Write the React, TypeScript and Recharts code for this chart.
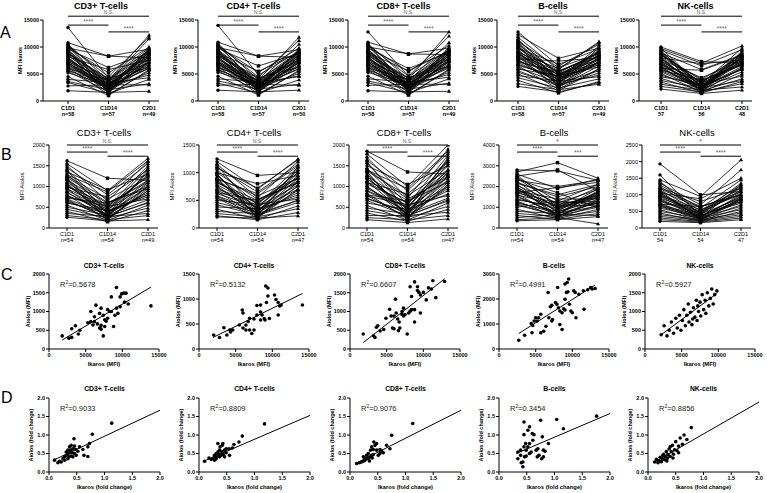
import React from 'react';
import { LineChart, Line, ScatterChart, Scatter, XAxis, YAxis, ReferenceLine } from 'recharts';

type Triple = [number, number, number];
type Pt = [number, number];

const cellTypes = ['CD3+ T-cells', 'CD4+ T-cells', 'CD8+ T-cells', 'B-cells', 'NK-cells'];
const timepoints = ['C1D1', 'C1D14', 'C2D1'];

// ---- A: Ikaros MFI per patient at C1D1, C1D14, C2D1 ----
const cd3Ikaros: Triple[] = [
  [13600, 4200, 9800], [10800, 8300, 8000], [10500, 3800, 12200], [10200, 4500, 11800],
  [9800, 8300, 9600], [9600, 6200, 8900], [9400, 3500, 11500], [9200, 3000, 9200],
  [9000, 2600, 8700], [8800, 4000, 9400], [8600, 2200, 7900], [8400, 3300, 8500],
  [8200, 5800, 7600], [8000, 2800, 9000], [7800, 1900, 7200], [7600, 3600, 8200],
  [7400, 2400, 6800], [7200, 1500, 7700], [7000, 3100, 6400], [6800, 2000, 7400],
  [6500, 2700, 6000], [6200, 1200, 5600], [6000, 3800, 8800], [5800, 2300, 5200],
  [5500, 1700, 6600], [5200, 2900, 4800], [4500, 1000, 5800], [4000, 3400, 4300],
  [3600, 2100, 3200], [3400, 1400, 4000], [1900, 1600, 1800], [2800, 3000, 3000],
  [9900, 5200, 10000], [10400, 2500, 9500], [9500, 2300, 7000], [8700, 4200, 6200],
  [8100, 1800, 9800], [7300, 3900, 9300], [6700, 3200, 7800], [9100, 1600, 8300],
  [7900, 2700, 6100], [6300, 2500, 8600], [8900, 3700, 7200], [7100, 2200, 9100],
  [5600, 3300, 7100], [10000, 2900, 8100],
];
const cd4Ikaros: Triple[] = [
  [14000, 4800, 9200], [10900, 8300, 8100], [10600, 3900, 11800], [10300, 4400, 11200],
  [9900, 8300, 9500], [9700, 6500, 8800], [9500, 3600, 10500], [9300, 3100, 9300],
  [9100, 2700, 8600], [8900, 5500, 9000], [8700, 2300, 7800], [8500, 3400, 8400],
  [8300, 4100, 7500], [8100, 2900, 9100], [7900, 2000, 7100], [7700, 3700, 8100],
  [7500, 2500, 6700], [7300, 1600, 7600], [7100, 3200, 6300], [6900, 2100, 7300],
  [6600, 2800, 5900], [6300, 1300, 5500], [6100, 3900, 8700], [5900, 2400, 5100],
  [5600, 1800, 6500], [5300, 3000, 4700], [4600, 1100, 5700], [4100, 3500, 4500],
  [3700, 2200, 3100], [3300, 1500, 3900], [2000, 1700, 2000], [2900, 3100, 2900],
  [10100, 5300, 9800], [10500, 2600, 9400], [9400, 2400, 7100], [8600, 4300, 6300],
  [8200, 1900, 9700], [7200, 3800, 9200], [6800, 3300, 7700], [9000, 1700, 8200],
  [7800, 2800, 6000], [6400, 2600, 8500], [8800, 3600, 7300], [7000, 2300, 9000],
  [5700, 3200, 7000], [10200, 3000, 8000],
];
const cd8Ikaros: Triple[] = [
  [12800, 4600, 9500], [10900, 8700, 8600], [10600, 4000, 12800], [10300, 4600, 12000],
  [10000, 8700, 9800], [9800, 6000, 9000], [9500, 3700, 10800], [9300, 3200, 9400],
  [9100, 2800, 8800], [8900, 5600, 9300], [8700, 2300, 8000], [8500, 3500, 8600],
  [8300, 4200, 7700], [8100, 2900, 9200], [7900, 2000, 7300], [7700, 3800, 8300],
  [7500, 2500, 6900], [7300, 1500, 7800], [7100, 3300, 6500], [6900, 2100, 7500],
  [6600, 2800, 6100], [6300, 1200, 5700], [6100, 4000, 8900], [5900, 2400, 5300],
  [5600, 1800, 6700], [5300, 3000, 4900], [4600, 1100, 5900], [4100, 3500, 4400],
  [3700, 2200, 3300], [3400, 1500, 4100], [1900, 1700, 1800], [2900, 3100, 3100],
  [10200, 5400, 10300], [10500, 2600, 9700], [9600, 2400, 7200], [8700, 4300, 6400],
  [8200, 1900, 10000], [7400, 3900, 9500], [6800, 3200, 8000], [9200, 1700, 8500],
  [8000, 2800, 6300], [6400, 2500, 8800], [9000, 3700, 7400], [7200, 2200, 9300],
  [5700, 3300, 7300], [10100, 2900, 8300],
];
const bIkaros: Triple[] = [
  [12800, 6500, 10500], [12300, 7900, 9800], [11800, 5800, 11000], [11400, 4600, 9400],
  [11000, 6200, 8800], [10700, 3800, 10200], [10400, 5200, 9000], [10100, 4200, 8500],
  [9800, 6800, 9600], [9500, 3400, 7900], [9200, 4800, 8200], [8900, 2900, 7400],
  [8600, 5500, 8700], [8300, 3900, 7000], [8000, 4400, 9200], [7700, 2600, 6500],
  [7400, 5000, 7700], [7100, 3600, 6800], [6800, 4000, 7200], [6500, 2200, 6000],
  [6200, 3300, 5600], [5900, 4700, 6300], [5600, 2800, 5200], [5300, 3100, 4800],
  [5000, 1900, 5900], [4700, 3700, 4500], [4300, 2400, 4100], [3800, 1500, 3600],
  [3200, 2100, 3100], [2700, 1700, 3400], [7800, 7400, 8000], [9000, 6000, 10800],
  [10900, 4100, 7600], [9700, 5600, 8300], [9100, 3100, 9900], [8400, 4900, 7100],
  [7600, 3500, 8600], [10300, 2700, 8100], [8800, 4300, 6700], [7200, 5400, 8900],
  [9900, 3700, 9300], [8200, 2500, 7300], [6600, 4500, 7900], [11200, 5000, 8400],
];
const nkIkaros: Triple[] = [
  [10000, 7300, 7000], [9700, 7000, 10200], [9400, 6500, 9500], [9100, 3200, 9800],
  [8900, 5800, 8600], [8700, 2700, 9000], [8500, 4000, 8300], [8200, 3500, 7900],
  [7900, 2300, 8700], [7700, 4300, 7500], [7400, 3000, 7100], [7200, 2000, 8000],
  [6900, 3700, 6800], [6700, 2500, 6400], [6400, 3300, 7300], [6200, 1800, 6100],
  [5900, 2800, 5800], [5700, 3900, 6600], [5400, 2200, 5400], [5100, 1600, 5000],
  [4800, 2600, 5900], [4500, 3100, 4600], [4200, 1900, 4100], [3800, 2400, 3800],
  [3500, 1500, 3600], [3100, 2000, 2600], [2700, 1700, 3200], [2200, 1400, 2000],
  [8000, 6900, 7600], [6000, 5700, 8400], [9300, 2500, 8200], [8600, 3800, 6700],
  [8100, 1900, 9300], [7300, 3400, 8900], [6800, 2800, 7400], [9000, 1700, 7800],
  [7700, 2400, 6100], [6300, 2100, 8100], [8800, 3200, 7000], [7000, 1900, 8500],
  [5600, 2700, 6900], [9800, 2600, 8700],
];
const ikarosN = [
  ['n=58', 'n=57', 'n=49'], ['n=58', 'n=57', 'n=50'], ['n=58', 'n=57', 'n=49'],
  ['n=58', 'n=57', 'n=49'], ['57', '56', '48'],
];
const ikarosTicks = [0, 5000, 10000, 15000];
const ikarosSig = [
  ['N.S.', '****', '****'], ['N.S.', '****', '****'], ['N.S.', '****', '****'],
  ['N.S.', '****', '****'], ['N.S.', '****', '****'],
];

// ---- B: Aiolos MFI per patient ----
const cd3Aiolos: Triple[] = [
  [1620, 1200, 1150], [1550, 900, 1680], [1500, 650, 1600], [1450, 800, 1550],
  [1400, 500, 1500], [1350, 920, 1300], [1300, 420, 1450], [1250, 700, 1200],
  [1200, 350, 1350], [1150, 600, 1100], [1100, 480, 1250], [1050, 300, 1000],
  [1000, 560, 1150], [950, 250, 900], [900, 450, 1050], [850, 380, 800],
  [800, 200, 950], [750, 520, 700], [700, 330, 850], [650, 270, 620],
  [600, 420, 750], [550, 180, 550], [500, 310, 680], [450, 240, 480],
  [400, 150, 420], [350, 280, 350], [300, 200, 300], [260, 170, 200],
  [1280, 870, 1620], [980, 750, 1400], [720, 600, 1000], [1180, 280, 600],
  [1380, 350, 1150], [1220, 620, 950], [1080, 250, 1400], [940, 520, 1250],
  [860, 300, 1100], [1160, 200, 1000], [780, 420, 1300], [680, 220, 900],
  [1020, 400, 800], [620, 340, 1000],
];
const cd4Aiolos: Triple[] = [
  [1250, 950, 1000], [1200, 700, 1250], [1150, 550, 1200], [1100, 650, 1150],
  [1050, 420, 1100], [1000, 800, 950], [950, 350, 1050], [900, 580, 900],
  [860, 300, 1000], [820, 500, 820], [780, 400, 920], [740, 260, 760],
  [700, 470, 850], [660, 220, 680], [620, 380, 780], [580, 320, 600],
  [540, 180, 700], [500, 430, 520], [460, 280, 640], [420, 230, 460],
  [380, 350, 560], [340, 160, 400], [300, 260, 500], [260, 200, 350],
  [220, 150, 280], [200, 180, 220], [1080, 720, 1230], [880, 620, 1120],
  [640, 500, 900], [960, 240, 500], [1130, 300, 950], [1000, 520, 820],
  [900, 220, 1100], [820, 440, 1000], [760, 260, 900], [980, 180, 850],
  [680, 370, 1050], [580, 200, 760], [860, 340, 700], [540, 300, 820],
];
const cd8Aiolos: Triple[] = [
  [1850, 1350, 1300], [1780, 1000, 2000], [1700, 720, 1900], [1630, 900, 1800],
  [1560, 560, 1750], [1500, 1050, 1500], [1430, 460, 1650], [1370, 780, 1400],
  [1300, 380, 1550], [1240, 660, 1250], [1180, 520, 1400], [1120, 330, 1150],
  [1060, 610, 1300], [1000, 270, 1000], [950, 490, 1150], [890, 410, 900],
  [830, 220, 1050], [770, 560, 780], [720, 360, 950], [660, 290, 680],
  [600, 450, 820], [540, 190, 600], [480, 340, 720], [420, 250, 520],
  [360, 160, 450], [300, 300, 380], [250, 200, 300], [200, 130, 220],
  [1400, 950, 1850], [1100, 820, 1600], [800, 650, 1100], [1350, 300, 650],
  [1600, 400, 1400], [1420, 700, 1200], [1250, 300, 1700], [1100, 600, 1500],
  [1000, 350, 1350], [1350, 250, 1250], [900, 500, 1600], [780, 250, 1100],
  [1200, 450, 1000], [700, 400, 1250],
];
const bAiolos: Triple[] = [
  [2800, 2750, 2300], [2700, 3150, 2400], [2600, 1900, 2350], [2500, 2800, 1800],
  [2450, 1300, 2100], [2400, 1100, 1950], [2300, 2000, 2300], [2250, 900, 1700],
  [2200, 1500, 2000], [2100, 750, 1600], [2050, 1200, 1850], [1950, 1000, 1500],
  [1900, 650, 1750], [1800, 1400, 1400], [1750, 850, 1650], [1650, 550, 1300],
  [1600, 1100, 1550], [1500, 700, 1200], [1400, 950, 1450], [1300, 500, 1100],
  [1200, 800, 1300], [1100, 600, 1000], [1000, 1300, 1150], [900, 450, 900],
  [800, 700, 1050], [700, 550, 800], [600, 420, 700], [500, 650, 600],
  [400, 500, 200], [350, 400, 550], [1700, 1950, 2200], [2350, 1700, 950],
  [2550, 1000, 1700], [2150, 1600, 2100], [1850, 800, 1900], [1700, 1200, 1300],
  [1550, 650, 1800], [2000, 550, 1400], [1350, 1050, 1600], [1150, 600, 1250],
  [1850, 1050, 1100], [1250, 700, 1500],
];
const nkAiolos: Triple[] = [
  [1930, 1000, 1100], [1450, 950, 2050], [1350, 700, 1750], [1300, 600, 1450],
  [1250, 520, 1300], [1200, 800, 1200], [1150, 450, 1350], [1100, 620, 1100],
  [1050, 400, 1150], [1000, 550, 1000], [950, 350, 950], [900, 480, 1050],
  [850, 300, 880], [800, 420, 900], [750, 280, 800], [700, 380, 750],
  [650, 250, 700], [600, 330, 650], [550, 220, 600], [500, 300, 550],
  [450, 200, 500], [400, 260, 450], [350, 230, 400], [300, 200, 350],
  [250, 180, 300], [200, 160, 250], [1050, 880, 1500], [720, 650, 1000],
  [1600, 350, 850], [1400, 420, 1250], [1180, 650, 1000], [1060, 300, 1300],
  [960, 500, 1200], [880, 320, 1000], [1120, 250, 900], [820, 450, 1100],
  [700, 260, 850], [1000, 380, 800], [660, 350, 950],
];
const aiolosN = [
  ['n=54', 'n=54', 'n=49'], ['n=54', 'n=54', 'n=47'], ['n=54', 'n=54', 'n=47'],
  ['n=54', 'n=54', 'n=47'], ['54', '54', '47'],
];
const aiolosTicks = [
  [0, 500, 1000, 1500, 2000], [0, 500, 1000, 1500], [0, 500, 1000, 1500, 2000],
  [0, 1000, 2000, 3000, 4000], [0, 500, 1000, 1500, 2000, 2500],
];
const aiolosSig = [
  ['N.S.', '****', '****'], ['N.S.', '****', '****'], ['N.S.', '****', '****'],
  ['*', '****', '***'], ['*', '****', '****'],
];
const sigPairs = [[0, 2], [0, 1], [1, 2]];

// ---- C: Aiolos vs Ikaros (MFI) ----
const cd3Mfi: Pt[] = [
  [1800, 350], [2700, 290], [3100, 310], [3100, 540], [3600, 620], [4000, 400], [4200, 500],
  [5300, 700], [5700, 1000], [5700, 730], [6000, 640], [6200, 860], [6200, 730], [6400, 1170],
  [6600, 670], [6900, 950], [6900, 560], [7100, 630], [7100, 1090], [7100, 530], [7400, 900],
  [7400, 350], [7600, 600], [7600, 780], [7800, 740], [8000, 1050], [8000, 820], [8300, 1000],
  [8500, 1390], [8500, 1000], [8800, 600], [9000, 900], [9200, 1640], [9200, 1090], [9400, 950],
  [9700, 1390], [9700, 1130], [9900, 1470], [10200, 1490], [10500, 1490], [10300, 1250],
  [10800, 1200], [13900, 1150],
];
const cd4Mfi: Pt[] = [
  [2000, 280], [2800, 230], [3400, 425], [3800, 280], [4200, 380], [4300, 340], [4600, 380],
  [5500, 480], [5900, 780], [6000, 720], [6000, 420], [6400, 480], [6400, 380], [6700, 550],
  [6900, 613], [6900, 380], [7200, 310], [7500, 380], [7500, 600], [7900, 680], [7900, 870],
  [8400, 880], [8400, 740], [8400, 580], [8600, 680], [8900, 610], [9000, 580], [9100, 1260],
  [9200, 930], [9400, 1220], [9400, 1060], [9600, 610], [10300, 1080], [10500, 990],
  [10800, 930], [10800, 680], [11000, 860], [11200, 880], [14100, 880],
];
const cd8Mfi: Pt[] = [
  [1800, 400], [3200, 355], [3400, 310], [3600, 580], [3800, 620], [4100, 480], [4600, 520],
  [4900, 820], [5400, 1060], [5600, 880], [5800, 560], [6000, 880], [6000, 540], [6200, 1330],
  [6300, 960], [6500, 800], [6600, 490], [6700, 720], [6800, 560], [7100, 1000], [7100, 920],
  [7300, 1090], [7300, 880], [7500, 920], [7800, 400], [8000, 960], [8200, 1010], [8200, 1660],
  [8400, 1050], [8400, 1400], [8800, 1050], [8800, 1790], [8800, 720], [9200, 1660],
  [9200, 1560], [9400, 1510], [9600, 960], [9600, 1440], [10000, 1510], [10400, 1310],
  [10700, 1630], [11100, 1600], [11300, 1820], [11700, 1370], [12900, 1800],
];
const bMfi: Pt[] = [
  [2700, 350], [3500, 550], [4400, 1020], [4600, 940], [4800, 1120], [5000, 1250], [4500, 650],
  [5200, 1120], [5400, 1250], [5700, 1390], [6100, 710], [5700, 650], [6400, 910], [6800, 1250],
  [7200, 1120], [7300, 1180], [7000, 1690], [7200, 1750], [6700, 2260], [7700, 1860],
  [7900, 1790], [8100, 1650], [8000, 2460], [8300, 1520], [8600, 1450], [8300, 980],
  [8600, 780], [9000, 1990], [8800, 1610], [9000, 1560], [9200, 2260], [9400, 2290],
  [9000, 2600], [9300, 2660], [9500, 2800], [9600, 1790], [9800, 1520], [10000, 1450],
  [10200, 2330], [10400, 2260], [10500, 1250], [10900, 2190], [11500, 2330], [11600, 1590],
  [12100, 2370], [12500, 2460], [12700, 2400], [13100, 2420],
];
const nkMfi: Pt[] = [
  [2200, 380], [2600, 620], [3000, 350], [3300, 500], [3600, 720], [3900, 420], [4200, 820],
  [4400, 560], [4700, 900], [4900, 500], [5100, 760], [5300, 1050], [5500, 620], [5700, 900],
  [5900, 1200], [6000, 720], [6200, 980], [6400, 650], [6600, 1100], [6800, 850], [7000, 1300],
  [7100, 760], [7300, 1000], [7500, 1250], [7600, 880], [7800, 1450], [8000, 1050], [8200, 1300],
  [8300, 950], [8500, 1500], [8700, 1150], [8900, 1350], [9100, 1600], [9300, 1200],
  [9500, 1450], [9800, 1550], [7200, 1150], [6500, 800],
];
const mfiFits = [
  [1800, 240, 13900, 1650], [1900, 230, 14100, 1110], [1800, 170, 12900, 1870],
  [2700, 620, 13100, 2560], [2200, 380, 9800, 1480],
];
const mfiR2 = ['0.5678', '0.5132', '0.6607', '0.4991', '0.5927'];
const mfiXTicks = [0, 5000, 10000, 15000];
const mfiYTicks = [
  [0, 500, 1000, 1500, 2000], [0, 500, 1000, 1500], [0, 500, 1000, 1500, 2000],
  [0, 1000, 2000, 3000], [0, 500, 1000, 1500, 2000],
];

// ---- D: Aiolos vs Ikaros (fold change) ----
const cd3Fold: Pt[] = [
  [0.10, 0.32], [0.16, 0.25], [0.19, 0.29], [0.22, 0.27], [0.25, 0.36], [0.28, 0.41],
  [0.31, 0.45], [0.28, 0.32], [0.34, 0.36], [0.31, 0.54], [0.34, 0.59], [0.37, 0.52],
  [0.37, 0.68], [0.40, 0.72], [0.43, 0.63], [0.46, 0.70], [0.45, 0.90], [0.40, 0.43],
  [0.43, 0.41], [0.49, 0.45], [0.52, 0.56], [0.55, 0.68], [0.61, 0.61], [0.63, 0.45],
  [0.70, 0.42], [0.70, 0.68], [0.78, 1.02], [0.73, 0.77], [1.13, 1.32], [0.34, 0.50],
  [0.39, 0.59], [0.36, 0.41], [0.42, 0.52], [0.46, 0.50], [0.48, 0.61],
];
const cd4Fold: Pt[] = [
  [0.10, 0.29], [0.18, 0.38], [0.22, 0.34], [0.26, 0.38], [0.28, 0.32], [0.31, 0.36],
  [0.31, 0.50], [0.34, 0.54], [0.37, 0.59], [0.34, 0.77], [0.38, 0.68], [0.42, 0.72],
  [0.43, 0.77], [0.40, 0.45], [0.44, 0.47], [0.46, 0.59], [0.49, 0.63], [0.54, 0.63],
  [0.55, 0.45], [0.60, 0.65], [0.63, 0.74], [0.72, 0.81], [0.78, 0.97], [1.18, 1.30],
  [0.28, 0.45], [0.37, 0.41], [0.31, 0.41], [0.46, 0.41], [0.49, 0.52], [0.36, 0.48],
  [0.41, 0.55],
];
const cd8Fold: Pt[] = [
  [0.12, 0.23], [0.17, 0.25], [0.21, 0.27], [0.24, 0.29], [0.27, 0.32], [0.30, 0.36],
  [0.33, 0.38], [0.36, 0.41], [0.39, 0.45], [0.42, 0.47], [0.30, 0.45], [0.33, 0.50],
  [0.37, 0.59], [0.42, 0.61], [0.45, 0.72], [0.48, 0.77], [0.39, 0.68], [0.43, 0.81],
  [0.51, 0.45], [0.54, 0.50], [0.60, 0.52], [0.57, 0.56], [0.66, 0.72], [0.72, 0.63],
  [0.75, 0.99], [1.13, 1.31], [0.24, 0.41], [0.27, 0.38], [0.48, 0.59], [0.54, 0.61],
  [0.35, 0.30], [0.40, 0.38],
];
const bFold: Pt[] = [
  [0.34, 0.36], [0.39, 0.45], [0.43, 0.14], [0.40, 0.25], [0.43, 0.27], [0.46, 0.41],
  [0.49, 0.43], [0.45, 0.68], [0.48, 0.77], [0.45, 1.01], [0.45, 1.35], [0.52, 1.13],
  [0.55, 1.22], [0.55, 0.50], [0.58, 0.54], [0.49, 0.59], [0.55, 0.77], [0.61, 0.86],
  [0.60, 1.04], [0.63, 1.01], [0.67, 0.59], [0.70, 0.63], [0.69, 0.41], [0.72, 0.45],
  [0.75, 1.40], [0.78, 0.95], [0.80, 0.59], [0.83, 0.56], [0.77, 0.36], [0.80, 0.41],
  [0.89, 0.77], [1.04, 1.42], [1.16, 1.17], [0.39, 0.59], [0.34, 0.54], [0.52, 0.68],
  [1.76, 1.51],
];
const nkFold: Pt[] = [
  [0.12, 0.27], [0.15, 0.34], [0.18, 0.25], [0.20, 0.30], [0.22, 0.40], [0.24, 0.28],
  [0.26, 0.36], [0.28, 0.48], [0.30, 0.33], [0.31, 0.42], [0.33, 0.55], [0.35, 0.38],
  [0.36, 0.47], [0.38, 0.62], [0.40, 0.42], [0.42, 0.55], [0.44, 0.72], [0.46, 0.48],
  [0.48, 0.60], [0.50, 0.82], [0.52, 0.58], [0.55, 0.70], [0.58, 0.92], [0.62, 0.75],
  [0.65, 1.00], [0.70, 0.88], [0.78, 1.20], [0.45, 0.38], [0.40, 0.68], [0.34, 0.30],
  [0.27, 0.45], [0.55, 0.52],
];
const foldFits = [
  [0.08, 0.32, 2.0, 1.67], [0.08, 0.29, 2.0, 1.53], [0.1, 0.23, 2.0, 1.67],
  [0.31, 0.50, 2.0, 1.58], [0.12, 0.27, 2.0, 1.89],
];
const foldR2 = ['0.9033', '0.8809', '0.9076', '0.3454', '0.8856'];
const foldTicks = [0, 0.5, 1, 1.5, 2];

const ikarosSets = [cd3Ikaros, cd4Ikaros, cd8Ikaros, bIkaros, nkIkaros];
const aiolosSets = [cd3Aiolos, cd4Aiolos, cd8Aiolos, bAiolos, nkAiolos];
const mfiSets = [cd3Mfi, cd4Mfi, cd8Mfi, bMfi, nkMfi];
const foldSets = [cd3Fold, cd4Fold, cd8Fold, bFold, nkFold];

// layout (pixel positions of each panel's y axis / first time point)
const catX = [68, 218, 368, 518, 661];
const axisA = [43, 198, 348, 497, 639];
const axisB = [49, 199, 349, 499, 642];
const axisC = [49, 199, 350, 499, 645];
const axisD = [49, 199, 350, 499, 648];
const SP = 40.5;

const renderMarker = (p: any) => {
  const { cx, cy, payload, index, dataKey } = p;
  const key = `${dataKey}-${index}`;
  if (cx == null || cy == null) return <g key={key} />;
  if (payload.t === 0) return <circle key={key} cx={cx} cy={cy} r={1.7} fill="#000" />;
  if (payload.t === 1) return <rect key={key} x={cx - 1.7} y={cy - 1.7} width={3.4} height={3.4} fill="#000" />;
  return <path key={key} d={`M${cx},${cy - 2.2}L${cx + 2},${cy + 1.4}L${cx - 2},${cy + 1.4}Z`} fill="#000" />;
};

const dotShape = (p: any) => <circle cx={p.cx} cy={p.cy} r={1.8} fill="#000" />;

const YW = 40, MT = 24, XH = 24, MR = 4;

function Spaghetti(props: any) {
  const { axisX, c0, top, h, subjects, yTicks, n, sig, levels, bold, dy } = props;
  const yMax = yTicks[yTicks.length - 1];
  const plotW = c0 + 2 * SP + 10 - axisX;
  const lo = -(c0 - axisX) / SP;
  const hi = 2 + 10 / SP;
  const rows = timepoints.map((_, t) => {
    const r: any = { t };
    subjects.forEach((s: Triple, i: number) => { r['s' + i] = s[t]; });
    return r;
  });
  const fw = bold ? 'bold' : 'normal';
  const catTick = (p: any) => (
    <text x={p.x} y={p.y} textAnchor="middle" fontSize={5.5} fontWeight={fw} fill="#000">
      <tspan x={p.x} dy={dy[0]}>{timepoints[p.payload.value]}</tspan>
      <tspan x={p.x} dy={dy[1]}>{n[p.payload.value]}</tspan>
    </text>
  );
  return (
    <div style={{ position: 'absolute', left: axisX - YW, top: top - MT }}>
      <LineChart width={YW + plotW + MR} height={MT + h + XH} data={rows}
        margin={{ top: MT, right: MR, left: 0, bottom: 0 }}>
        <XAxis type="number" dataKey="t" domain={[lo, hi]} allowDataOverflow ticks={[0, 1, 2]}
          interval={0} tick={catTick} tickSize={3} tickMargin={1} height={XH} stroke="#000" />
        <YAxis type="number" domain={[0, yMax]} allowDataOverflow ticks={yTicks} interval={0}
          tick={{ fontSize: 5.5, fill: '#000', fontWeight: fw }} tickSize={3} tickMargin={1}
          width={YW} stroke="#000" />
        {sig.map((s: string, i: number) => {
          const y = yMax * levels[i];
          const [a, b] = sigPairs[i];
          return (
            <ReferenceLine key={'sig' + i} segment={[{ x: a, y }, { x: b, y }]} ifOverflow="visible"
              stroke="#000" strokeWidth={1}
              label={{ value: s, position: 'top', offset: s === 'N.S.' ? 2 : 1, fontSize: s === 'N.S.' ? 5 : 6.5, fill: '#666' }} />
          );
        })}
        {subjects.map((_: Triple, i: number) => (
          <Line key={'s' + i} dataKey={'s' + i} stroke="#000" strokeWidth={0.8} dot={renderMarker}
            activeDot={false} isAnimationActive={false} />
        ))}
      </LineChart>
    </div>
  );
}

const SW = 32, SMT = 8, SXH = 14, SMR = 10;

function ScatterPanel(props: any) {
  const { axisX, top, h, w, xTicks, yTicks, pts, fit, dec } = props;
  const xMax = xTicks[xTicks.length - 1];
  const yMax = yTicks[yTicks.length - 1];
  const data = pts.map(([x, y]: Pt) => ({ x, y }));
  const fmt = (v: number) => (dec ? v.toFixed(dec) : String(v));
  const tick = { fontSize: 5.5, fill: '#000', fontWeight: 'bold' };
  return (
    <div style={{ position: 'absolute', left: axisX - SW, top: top - SMT }}>
      <ScatterChart width={SW + w + SMR} height={SMT + h + SXH}
        margin={{ top: SMT, right: SMR, left: 0, bottom: 0 }}>
        <XAxis type="number" dataKey="x" domain={[0, xMax]} allowDataOverflow ticks={xTicks}
          interval={0} tickFormatter={fmt} tick={tick} tickSize={3} tickMargin={1} height={SXH} stroke="#000" />
        <YAxis type="number" dataKey="y" domain={[0, yMax]} allowDataOverflow ticks={yTicks}
          interval={0} tickFormatter={fmt} tick={tick} tickSize={3} tickMargin={1} width={SW} stroke="#000" />
        <ReferenceLine segment={[{ x: fit[0], y: fit[1] }, { x: fit[2], y: fit[3] }]}
          ifOverflow="visible" stroke="#000" strokeWidth={1} />
        <Scatter data={data} fill="#000" shape={dotShape} isAnimationActive={false} />
      </ScatterChart>
    </div>
  );
}

const rowA = { top: 20, h: 81 };
const rowB = { top: 145, h: 83 };
const rowC = { top: 274, h: 75, w: 110 };
const rowD = { top: 398, h: 74, w: 111 };

export default function App() {
  const font = '"Liberation Sans", Arial, Helvetica, sans-serif';
  return (
    <div style={{ position: 'fixed', left: 0, top: 0, width: 767, height: 493, background: '#fff', overflow: 'hidden', fontFamily: font }}>
      {cellTypes.map((_, i) => (
        <Spaghetti key={'a' + i} axisX={axisA[i]} c0={catX[i]} top={rowA.top} h={rowA.h}
          subjects={ikarosSets[i]} yTicks={ikarosTicks} n={ikarosN[i]} sig={ikarosSig[i]}
          levels={[1.047, 0.937, 0.853]} bold dy={[4.7, 6.6]} />
      ))}
      {cellTypes.map((_, i) => (
        <Spaghetti key={'b' + i} axisX={axisB[i]} c0={catX[i] - 1} top={rowB.top} h={rowB.h}
          subjects={aiolosSets[i]} yTicks={aiolosTicks[i]} n={aiolosN[i]} sig={aiolosSig[i]}
          levels={[1.0, 0.915, 0.865]} bold={false} dy={[3.7, 6]} />
      ))}
      {cellTypes.map((_, i) => (
        <ScatterPanel key={'c' + i} axisX={axisC[i]} top={rowC.top} h={rowC.h} w={rowC.w}
          xTicks={mfiXTicks} yTicks={mfiYTicks[i]} pts={mfiSets[i]} fit={mfiFits[i]} dec={0} />
      ))}
      {cellTypes.map((_, i) => (
        <ScatterPanel key={'d' + i} axisX={axisD[i]} top={rowD.top} h={rowD.h} w={rowD.w}
          xTicks={foldTicks} yTicks={foldTicks} pts={foldSets[i]} fit={foldFits[i]} dec={1} />
      ))}
      <svg width={767} height={493} style={{ position: 'absolute', left: 0, top: 0, pointerEvents: 'none' }}
        fontFamily={font}>
        <text x={0} y={38} fontSize={16}>A</text>
        <text x={1} y={160} fontSize={16}>B</text>
        <text x={1} y={280} fontSize={16}>C</text>
        <text x={1} y={403} fontSize={16}>D</text>
        {cellTypes.map((t, i) => {
          const cA = (axisA[i] + catX[i] + 2 * SP + 10) / 2;
          const cB = (axisB[i] + catX[i] + 2 * SP + 10) / 2;
          const cC = axisC[i] + rowC.w / 2;
          const cD = axisD[i] + rowD.w / 2;
          const midA = rowA.top + rowA.h / 2;
          const midB = rowB.top + rowB.h / 2;
          const midC = rowC.top + rowC.h / 2;
          const midD = rowD.top + rowD.h / 2;
          return (
            <g key={t}>
              <text x={cA} y={8.5} fontSize={9} fontWeight="bold" textAnchor="middle">{t}</text>
              <text x={cB} y={136} fontSize={9.5} textAnchor="middle">{t}</text>
              <text x={cC} y={267.5} fontSize={6.8} fontWeight="bold" textAnchor="middle">{t}</text>
              <text x={cD} y={391} fontSize={6.8} fontWeight="bold" textAnchor="middle">{t}</text>
              <text transform={`translate(${axisA[i] - 23},${midA}) rotate(-90)`} fontSize={5.5}
                fontWeight="bold" textAnchor="middle" dominantBaseline="central">MFI Ikaros</text>
              <text transform={`translate(${axisB[i] - 27},${midB}) rotate(-90)`} fontSize={6}
                textAnchor="middle" dominantBaseline="central">MFI Aiolos</text>
              <text transform={`translate(${axisC[i] - 21},${midC}) rotate(-90)`} fontSize={5.5}
                fontWeight="bold" textAnchor="middle" dominantBaseline="central">Aiolos (MFI)</text>
              <text transform={`translate(${axisD[i] - 18},${midD}) rotate(-90)`} fontSize={5.5}
                fontWeight="bold" textAnchor="middle" dominantBaseline="central">Aiolos (fold change)</text>
              <text x={cC} y={366} fontSize={5.8} fontWeight="bold" textAnchor="middle">Ikaros (MFI)</text>
              <text x={cD} y={489} fontSize={5.8} fontWeight="bold" textAnchor="middle">Ikaros (fold change)</text>
              <text x={axisC[i] + 11} y={287} fontSize={7.5} fill="#222">
                R<tspan dy={-3} fontSize={5}>2</tspan><tspan dy={3}>={mfiR2[i]}</tspan>
              </text>
              <text x={axisD[i] + 11} y={411} fontSize={7.5} fill="#222">
                R<tspan dy={-3} fontSize={5}>2</tspan><tspan dy={3}>={foldR2[i]}</tspan>
              </text>
            </g>
          );
        })}
      </svg>
    </div>
  );
}
